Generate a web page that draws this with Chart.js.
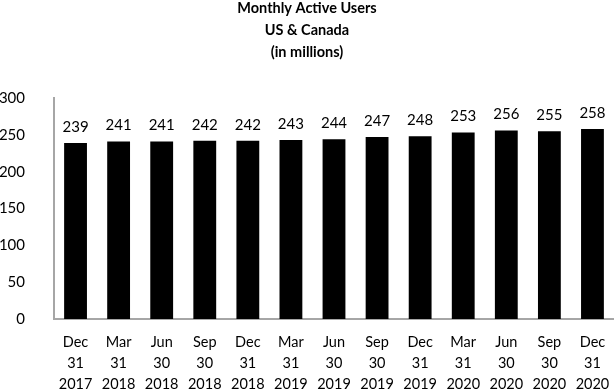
<!DOCTYPE html>
<html>
<head>
<meta charset="utf-8">
<script src="https://cdn.jsdelivr.net/npm/chart.js@4/dist/chart.umd.min.js"></script>
<style>
  html, body { margin: 0; padding: 0; background: #fff; }
  #wrap { width: 614px; height: 390px; }
</style>
</head>
<body>
<div id="wrap"><canvas id="c" width="614" height="390"></canvas></div>
<script>
const titleLines = ['Monthly Active Users', 'US & Canada', '(in millions)'];
const categories = [
  ['Dec', '31', '2017'], ['Mar', '31', '2018'], ['Jun', '30', '2018'], ['Sep', '30', '2018'],
  ['Dec', '31', '2018'], ['Mar', '31', '2019'], ['Jun', '30', '2019'], ['Sep', '30', '2019'],
  ['Dec', '31', '2019'], ['Mar', '31', '2020'], ['Jun', '30', '2020'], ['Sep', '30', '2020'],
  ['Dec', '31', '2020']
];
const mauValues = [239, 241, 241, 242, 242, 243, 244, 247, 248, 253, 256, 255, 258];
const yTicks = [0, 50, 100, 150, 200, 250, 300];

const FONT = 'Lato, "Open Sans", "Liberation Sans", sans-serif';

const valueLabels = {
  id: 'valueLabels',
  afterDatasetsDraw(chart) {
    const ctx = chart.ctx;
    const meta = chart.getDatasetMeta(0);
    ctx.save();
    ctx.font = '15px ' + FONT;
    ctx.fillStyle = '#000';
    ctx.textAlign = 'center';
    ctx.textBaseline = 'middle';
    meta.data.forEach((bar, i) => {
      ctx.fillText(String(mauValues[i]), bar.x, bar.y - 16);
    });
    ctx.restore();
  }
};

new Chart(document.getElementById('c'), {
  type: 'bar',
  data: {
    labels: categories,
    datasets: [{
      data: mauValues,
      backgroundColor: '#000000',
      borderWidth: 0,
      categoryPercentage: 1.0,
      barPercentage: 0.53
    }]
  },
  options: {
    responsive: false,
    animation: false,
    layout: { padding: { left: 0, right: 0, top: 0, bottom: 0 } },
    plugins: {
      legend: { display: false },
      tooltip: { enabled: false },
      title: {
        display: true,
        text: titleLines,
        color: '#000',
        font: { family: FONT, size: 14.5, weight: 'bold', lineHeight: 22 / 14.5 },
        padding: { top: -3, bottom: 35 }
      }
    },
    scales: {
      x: {
        afterFit(scale) { scale.height = 71; scale.paddingLeft = 0; scale.paddingRight = 0; },
        grid: { display: false, drawTicks: false },
        border: { display: true, color: '#a6a6a6', width: 2 },
        ticks: {
          color: '#000',
          font: { family: FONT, size: 14.5, lineHeight: 21 / 14.5 },
          padding: 13,
          maxRotation: 0,
          autoSkip: false
        }
      },
      y: {
        min: 0,
        max: 300,
        afterFit(scale) { scale.width = 54; },
        afterBuildTicks(scale) { scale.ticks = yTicks.map(v => ({ value: v })); },
        grid: { display: false, drawTicks: false },
        border: { display: true, color: '#a6a6a6', width: 2 },
        ticks: {
          color: '#000',
          font: { family: FONT, size: 15 },
          padding: 29
        }
      }
    }
  },
  plugins: [valueLabels]
});
</script>
</body>
</html>
